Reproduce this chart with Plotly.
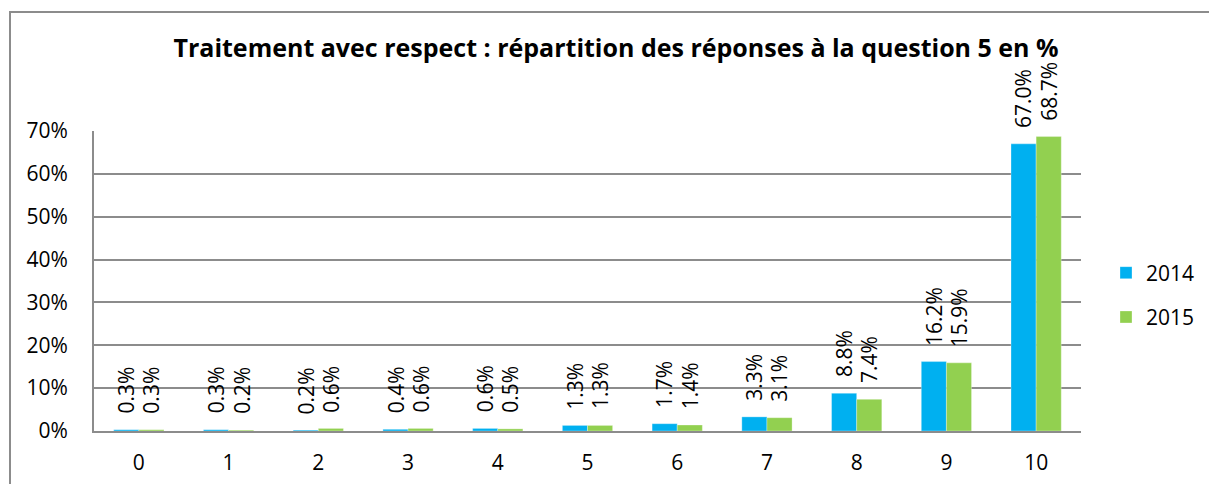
import plotly.graph_objects as go

categories = ["0", "1", "2", "3", "4", "5", "6", "7", "8", "9", "10"]
values_2014 = [0.3, 0.3, 0.2, 0.4, 0.6, 1.3, 1.7, 3.3, 8.8, 16.2, 67.0]
values_2015 = [0.3, 0.2, 0.6, 0.6, 0.5, 1.3, 1.4, 3.1, 7.4, 15.9, 68.7]
series_names = ["2014", "2015"]
colors = ["#00B0F0", "#92D050"]
title_text = "Traitement avec respect : répartition des réponses à la question 5 en %"

FONT = "Open Sans"
W, H = 1209, 484
ML, MR, MT, MB = 94, 128, 131, 53
PW, PH = W - ML - MR, H - MT - MB

fig = go.Figure()
for name, vals, col in zip(series_names, [values_2014, values_2015], colors):
    fig.add_trace(go.Bar(
        x=categories, y=vals, name=name,
        marker=dict(color=col, line=dict(color="rgba(255,255,255,0.6)", width=0.5)),
        legendgroup=name,
    ))

bargap = 0.44
half = (1 - bargap) / 4  # center offset of each bar in a group of 2
annotations = []
for k, vals in enumerate([values_2014, values_2015]):
    off = -half if k == 0 else half
    for i, v in enumerate(vals):
        annotations.append(dict(
            x=i + off, y=v, xref="x", yref="y",
            text=f"{v:.1f}%", textangle=-90,
            showarrow=False, xanchor="center", yanchor="bottom",
            yshift=14, font=dict(family=FONT, size=21, color="#000000"),
        ))

def px_x(p):
    return (p - ML) / PW

def px_y(p):
    return (H - MB - p) / PH

shapes = [dict(type="rect", xref="paper", yref="paper",
               x0=px_x(10), x1=px_x(1230), y0=px_y(500), y1=px_y(12),
               line=dict(color="#8C8C8C", width=2), fillcolor="rgba(0,0,0,0)", layer="below")]

fig.update_layout(
    width=W, height=H,
    margin=dict(l=ML, r=MR, t=MT, b=MB, autoexpand=False),
    paper_bgcolor="white", plot_bgcolor="white",
    barmode="group", bargap=bargap, bargroupgap=0,
    title=dict(text=f"<b>{title_text}</b>", x=616 / W, xanchor="center",
               y=1 - 48 / H, yanchor="middle", yref="container",
               font=dict(family=FONT, size=25, color="#000000")),
    font=dict(family=FONT, size=21, color="#000000"),
    xaxis=dict(type="category", showgrid=False, showline=True, linecolor="#8C8C8C", linewidth=2,
               ticks="", ticklabelstandoff=12, tickfont=dict(size=21), automargin=False),
    yaxis=dict(range=[0, 70], dtick=10, ticksuffix="%", showgrid=True, gridcolor="#8C8C8C", gridwidth=2,
               showline=True, linecolor="#8C8C8C", linewidth=2, ticks="", zeroline=False,
               ticklabelstandoff=20, tickfont=dict(size=21), automargin=False),
    legend=dict(x=px_x(1106), xanchor="left", y=px_y(295), yanchor="middle",
                font=dict(family=FONT, size=21), tracegroupgap=14, itemwidth=30),
    annotations=annotations,
    shapes=shapes,
    showlegend=True,
)

fig.write_html("out.html", config={"displayModeBar": False},
               post_script="document.body.style.margin='0';document.body.style.overflow='hidden';")
